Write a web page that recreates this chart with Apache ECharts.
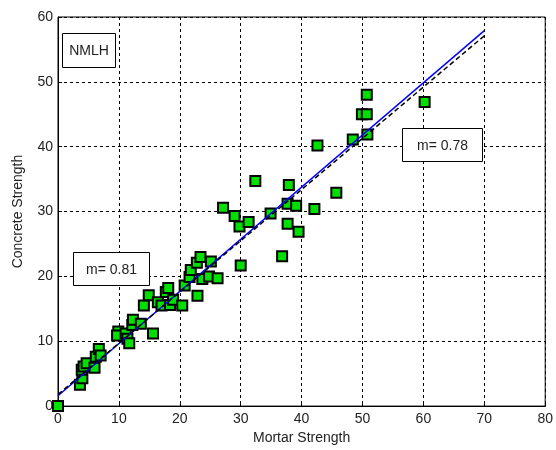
<!DOCTYPE html>
<html>
<head>
<meta charset="utf-8">
<script src="https://cdn.jsdelivr.net/npm/echarts@6/dist/echarts.min.js"></script>
<style>
    html, body { margin: 0; padding: 0; background: #fff; }
    #chart_con { width: 556px; height: 450px; }
</style>
</head>
<body>
<div id="chart_con"></div>
<script>
    // mortar strength (x) vs concrete strength (y)
    var mortar = [0, 3.6, 4.0, 3.9, 4.2, 4.7, 6.0, 6.2, 6.7, 7.0,
        9.9, 9.7, 11.1, 11.4, 11.7, 12.2, 12.3, 13.6, 14.1, 14.9,
        15.6, 16.4, 17.0, 17.7, 18.1, 18.4, 18.9, 20.4, 20.8, 21.6,
        21.8, 22.9, 22.8, 23.4, 23.7, 24.8, 25.1, 26.2, 27.1, 29.0,
        29.8, 31.3, 30.0, 32.4, 34.9, 36.8, 37.7, 37.9, 37.7, 39.1,
        39.5, 42.1, 42.6, 45.7, 48.4, 49.9, 50.7, 50.7, 50.8, 60.2];
    var concrete = [0, 3.3, 4.3, 5.6, 6.1, 6.6, 5.9, 7.6, 8.8, 7.8,
        11.5, 10.9, 11.2, 10.4, 9.7, 12.5, 13.3, 12.7, 15.5, 17.1,
        11.2, 16.0, 15.5, 17.6, 18.2, 15.6, 16.4, 15.5, 18.6, 19.9,
        21.0, 17.0, 22.1, 23.0, 19.6, 20.0, 22.3, 19.7, 30.6, 29.3,
        27.7, 28.4, 21.7, 34.7, 29.7, 23.1, 31.2, 34.1, 28.1, 30.9,
        26.9, 30.4, 40.2, 32.9, 41.1, 45.0, 45.0, 48.0, 41.9, 46.9];

    // fitted lines (end points)
    var fitX = [0, 70];
    var fitBlue = [1.6, 57.9];
    var fitBlack = [1.8, 57.1];

    var xTicks = [0, 80, 10];
    var yTicks = [0, 60, 10];

    var points = [];
    for (var i = 0; i < mortar.length; i++) {
        points.push([mortar[i], concrete[i]]);
    }
    var blueLine = [[fitX[0], fitBlue[0]], [fitX[1], fitBlue[1]]];
    var blackLine = [[fitX[0], fitBlack[0]], [fitX[1], fitBlack[1]]];

    var chart = echarts.init(document.getElementById('chart_con'), null, {renderer: 'canvas'});

    var fontFam = 'Liberation Sans, Arial, sans-serif';
    var labelFont = {color: '#222', fontSize: 14, fontFamily: fontFam};

    function noteBox(left, top, w, h, txt) {
        return {
            type: 'group',
            left: left,
            top: top,
            z: 100,
            zlevel: 1,
            children: [
                {type: 'rect', z: 100, zlevel: 1, shape: {x: 0, y: 0, width: w, height: h},
                    style: {fill: '#fff', stroke: '#000', lineWidth: 1}},
                {type: 'text', z: 101, zlevel: 1, x: w / 2, y: h / 2 + 1,
                    style: {text: txt, fill: '#222', fontSize: 14, fontFamily: fontFam,
                        align: 'center', verticalAlign: 'middle'}}
            ]
        };
    }

    var option = {
        animation: false,
        backgroundColor: '#fff',
        grid: {
            left: 58,
            top: 17,
            right: 3,
            bottom: 42,
            show: true,
            borderColor: '#000',
            borderWidth: 1,
            backgroundColor: '#fff'
        },
        xAxis: {
            type: 'value',
            min: xTicks[0],
            max: xTicks[1],
            interval: xTicks[2],
            name: 'Mortar Strength',
            nameLocation: 'middle',
            nameGap: 23,
            nameTextStyle: {color: '#222', fontSize: 14, fontFamily: fontFam},
            axisLine: {lineStyle: {color: '#000', width: 1}},
            axisTick: {inside: true, length: 4, lineStyle: {color: '#000'}},
            axisLabel: Object.assign({margin: 6}, labelFont),
            splitLine: {show: true, lineStyle: {color: '#000', type: [3, 3], width: 1}}
        },
        yAxis: {
            type: 'value',
            min: yTicks[0],
            max: yTicks[1],
            interval: yTicks[2],
            name: 'Concrete Strength',
            nameLocation: 'middle',
            nameGap: 33,
            nameTextStyle: {color: '#222', fontSize: 14, fontFamily: fontFam},
            axisLine: {show: true, lineStyle: {color: '#000', width: 1}},
            axisTick: {show: true, inside: true, length: 4, lineStyle: {color: '#000'}},
            axisLabel: Object.assign({margin: 5}, labelFont),
            splitLine: {show: true, lineStyle: {color: '#000', type: [3, 3], width: 1}}
        },
        series: [
            {
                type: 'scatter',
                data: points,
                symbol: 'rect',
                symbolSize: 10,
                itemStyle: {color: '#00e000', borderColor: '#000', borderWidth: 2, opacity: 1},
                z: 2
            },
            {
                type: 'line',
                data: blueLine,
                showSymbol: false,
                lineStyle: {color: '#0000ff', width: 1.5},
                z: 3
            },
            {
                type: 'line',
                data: blackLine,
                showSymbol: false,
                lineStyle: {color: '#000', width: 1.5, type: [5, 3]},
                z: 4
            }
        ],
        graphic: [
            noteBox(62, 33, 53, 34, 'NMLH'),
            noteBox(73, 252, 76, 33, 'm= 0.81'),
            noteBox(402, 128, 80, 33, 'm= 0.78')
        ]
    };

    chart.setOption(option);
</script>
</body>
</html>
